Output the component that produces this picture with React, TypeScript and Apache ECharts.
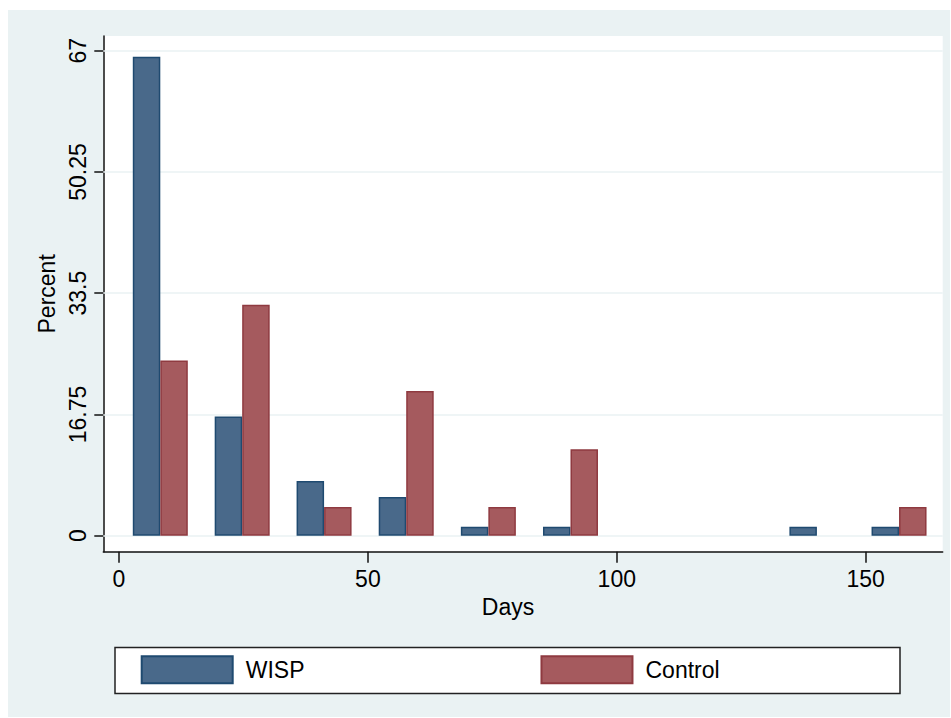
import React, { useEffect, useRef } from "react";
import * as echarts from "echarts";

const BIN_CENTERS = [8.3, 24.75, 41.2, 57.7, 74.2, 90.7, 107.2, 123.7, 140.2, 156.7];
const WISP = [66.15, 16.45, 7.55, 5.35, 1.23, 1.23, 0, 0, 1.23, 1.23];
const CONTROL = [24.2, 31.9, 3.95, 20.0, 3.95, 11.95, 0, 0, 0, 3.95];
const Y_TICKS = [0, 16.75, 33.5, 50.25, 67];
const X_TICKS = [0, 50, 100, 150];
const SERIES_NAMES = ["WISP", "Control"];

const FONT = "'Liberation Sans', Arial, sans-serif";

function pairs(values: number[]) {
  return BIN_CENTERS.map((c, i) => [c, values[i]]).filter((p) => p[1] > 0);
}

export default function App() {
  const ref = useRef<HTMLDivElement>(null);
  useEffect(() => {
    if (!ref.current) return;
    const chart = echarts.init(ref.current, undefined, { renderer: "svg" });
    chart.setOption({
      animation: false,
      backgroundColor: "#ffffff",
      textStyle: { fontFamily: FONT },
      graphic: [
        {
          type: "rect",
          z: -10,
          silent: true,
          shape: { x: 8, y: 10, width: 942, height: 707 },
          style: { fill: "#eaf2f3" },
        },
        {
          type: "rect",
          z: -5,
          silent: true,
          shape: { x: 115, y: 647.5, width: 785, height: 46 },
          style: { fill: "#ffffff", stroke: "#222222", lineWidth: 1.5 },
        },
      ],
      grid: {
        left: 103.3,
        top: 36,
        right: 8.3,
        bottom: 166.3,
        show: true,
        backgroundColor: "#ffffff",
        borderWidth: 0,
        containLabel: false,
      },
      legend: {
        data: SERIES_NAMES,
        left: 140.7,
        top: 655.3,
        padding: 0,
        itemWidth: 91,
        itemHeight: 27,
        itemGap: 236,
        icon: "rect",
        textStyle: {
          fontFamily: FONT,
          fontSize: 23,
          color: "#000000",
          padding: [0, 0, 0, 8],
        },
      },
      xAxis: {
        type: "value",
        min: -3.15,
        max: 165.47,
        name: "Days",
        nameLocation: "middle",
        nameGap: 44,
        nameTextStyle: { fontFamily: FONT, fontSize: 23, color: "#000000", padding: [0, 30, 0, 0] },
        axisLine: { show: true, onZero: false, lineStyle: { color: "#111111", width: 1.5 } },
        axisTick: { show: true, length: 11, customValues: X_TICKS, lineStyle: { color: "#111111", width: 1.5 } },
        axisLabel: { customValues: X_TICKS, fontFamily: FONT, fontSize: 23, color: "#000000", margin: 16 },
        splitLine: { show: false },
      },
      yAxis: {
        type: "value",
        min: -2.21,
        max: 69.03,
        name: "Percent",
        nameLocation: "middle",
        nameRotate: 90,
        nameGap: 42,
        nameTextStyle: { fontFamily: FONT, fontSize: 23, color: "#000000" },
        axisLine: { show: true, onZero: false, lineStyle: { color: "#111111", width: 1.5 } },
        axisTick: { show: true, length: 9, customValues: Y_TICKS, lineStyle: { color: "#111111", width: 1.5 } },
        axisLabel: {
          customValues: Y_TICKS,
          rotate: 90,
          fontFamily: FONT,
          fontSize: 23,
          color: "#000000",
          margin: 14,
        },
        splitLine: { show: false },
      },
      series: [
        {
          type: "line",
          name: "grid",
          data: [],
          z: 1,
          silent: true,
          markLine: {
            z: 1,
            silent: true,
            symbol: "none",
            label: { show: false },
            lineStyle: { color: "#eaf2f3", width: 1.5, type: "solid" },
            data: Y_TICKS.map((v) => ({ yAxis: v })),
          },
        },
        {
          type: "bar",
          name: SERIES_NAMES[0],
          z: 3,
          barWidth: 27.5,
          barGap: "0%",
          data: pairs(WISP),
          itemStyle: { color: "#49698a", borderColor: "#1f4a70", borderWidth: 1.5 },
        },
        {
          type: "bar",
          name: SERIES_NAMES[1],
          z: 3,
          barWidth: 27.5,
          barGap: "0%",
          data: pairs(CONTROL),
          itemStyle: { color: "#a55a5e", borderColor: "#8f3a40", borderWidth: 1.5 },
        },
      ],
    });
    return () => chart.dispose();
  }, []);
  return (
    <div
      ref={ref}
      style={{ position: "absolute", left: 0, top: 0, width: 951, height: 718 }}
    />
  );
}
